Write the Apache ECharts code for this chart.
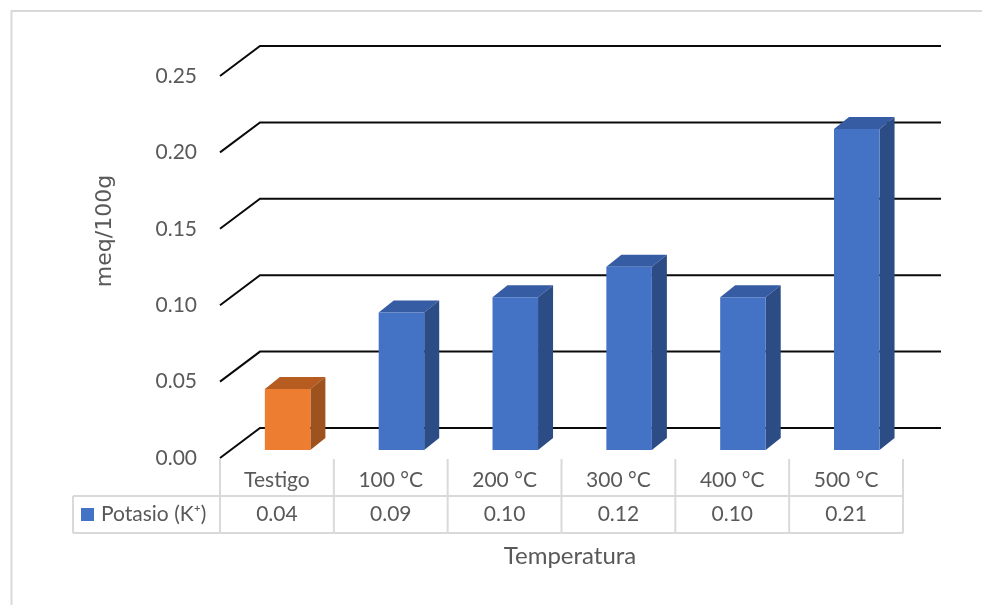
<!DOCTYPE html>
<html>
<head>
<meta charset="utf-8">
<script src="https://cdn.jsdelivr.net/npm/echarts@6/dist/echarts.min.js"></script>
<style>
  html, body { margin: 0; padding: 0; background: #ffffff; }
  #chart { width: 982px; height: 605px; }
</style>
</head>
<body>
<div id="chart"></div>
<script>
// Potassium content by treatment temperature
const categories = ['Testigo', '100 °C', '200 °C', '300 °C', '400 °C', '500 °C'];
const potasio = [0.04, 0.09, 0.10, 0.12, 0.10, 0.21];
const yTicks = [0.00, 0.05, 0.10, 0.15, 0.20, 0.25];
const seriesName = 'Potasio (K\u207A)';
const yTitle = 'meq/100g';
const xTitle = 'Temperatura';

const FONT = 'Lato, "Open Sans", sans-serif';
const TEXT = '#595959';
const BORDER = '#D9D9D9';
const BLUE = { front: '#4472C4', top: '#365CA3', side: '#2B4C84' };
const ORANGE = { front: '#ED7D31', top: '#B75C21', side: '#9E521D' };

// perspective: floor depth vector, bar placement inside the floor
const FLOOR_DX = 40, FLOOR_DY = -30;
const BAR_OFF_X = 10.7, BAR_OFF_Y = -8;
const BAR_DX = 15, BAR_DY = -12;
const BAR_RATIO = 0.4;

const chart = echarts.init(document.getElementById('chart'), null, { renderer: 'canvas' });

function renderGridLine(params, api) {
  const v = api.value(1);
  const bw = api.size([1, 0])[0];
  const p0 = api.coord([0, v]);
  const pn = api.coord([categories.length - 1, v]);
  const left = p0[0] - bw / 2;
  const right = pn[0] + bw / 2;
  const y = p0[1];
  return {
    type: 'polyline',
    shape: { points: [[left, y], [left + FLOOR_DX, y + FLOOR_DY], [right + 38, y + FLOOR_DY]] },
    style: { stroke: '#0a0a0a', lineWidth: 2, fill: null }
  };
}

function renderBar(params, api) {
  const i = api.value(0);
  const v = api.value(1);
  const base = api.coord([i, 0]);
  const top = api.coord([i, v]);
  const bw = api.size([1, 0])[0];
  const w = bw * BAR_RATIO;
  const xl = base[0] + BAR_OFF_X - w / 2;
  const xr = xl + w;
  const yb = base[1] + BAR_OFF_Y;
  const yt = top[1] + BAR_OFF_Y;
  const pal = i === 0 ? ORANGE : BLUE; // control sample highlighted
  return {
    type: 'group',
    children: [
      { type: 'polygon', shape: { points: [[xl, yt], [xr, yt], [xr + BAR_DX, yt + BAR_DY], [xl + BAR_DX, yt + BAR_DY]] }, style: { fill: pal.top } },
      { type: 'polygon', shape: { points: [[xr, yt], [xr + BAR_DX, yt + BAR_DY], [xr + BAR_DX, yb + BAR_DY], [xr, yb]] }, style: { fill: pal.side } },
      { type: 'rect', shape: { x: xl, y: yt, width: w, height: yb - yt }, style: { fill: pal.front } }
    ]
  };
}

function line(x1, y1, x2, y2) {
  return { type: 'line', shape: { x1, y1, x2, y2 }, style: { stroke: BORDER, lineWidth: 2 } };
}

function renderTable(params, api) {
  const i = api.value(0);
  const v = api.value(1);
  const c = api.coord([i, 0]);
  const bw = api.size([1, 0])[0];
  const x0 = c[0] - bw / 2, x1 = c[0] + bw / 2;
  const yTop = c[1] + 1, yMid = yTop + 37, yBot = yMid + 37;
  const kids = [
    line(x0, yTop, x0, yBot),
    line(x0, yMid, x1, yMid),
    line(x0, yBot, x1, yBot),
    { type: 'text', x: c[0], y: (yTop + yMid) / 2 + 3,
      style: { text: categories[i], fill: TEXT, fontFamily: FONT, fontSize: 21, align: 'center', verticalAlign: 'middle' } },
    { type: 'text', x: c[0], y: (yMid + yBot) / 2,
      style: { text: v.toFixed(2), fill: TEXT, fontFamily: FONT, fontSize: 21, align: 'center', verticalAlign: 'middle' } }
  ];
  if (i === categories.length - 1) kids.push(line(x1, yTop, x1, yBot));
  if (i === 0) {
    const lx = x0 - 147;
    kids.push(line(lx, yMid, x0, yMid));
    kids.push(line(lx, yBot, x0, yBot));
    kids.push(line(lx, yMid, lx, yBot));
    kids.push({ type: 'rect', shape: { x: lx + 8, y: (yMid + yBot) / 2 - 6.5, width: 13, height: 13 }, style: { fill: BLUE.front } });
    kids.push({ type: 'text', x: lx + 28, y: (yMid + yBot) / 2,
      style: { text: seriesName, fill: TEXT, fontFamily: FONT, fontSize: 21, align: 'left', verticalAlign: 'middle' } });
  }
  return { type: 'group', children: kids };
}

const option = {
  animation: false,
  backgroundColor: '#ffffff',
  grid: { left: 220, right: 79, top: 76, bottom: 147, containLabel: false },
  xAxis: {
    type: 'category',
    data: categories,
    boundaryGap: true,
    axisLine: { show: false },
    axisTick: { show: false },
    axisLabel: { show: false },
    splitLine: { show: false }
  },
  yAxis: {
    type: 'value',
    min: 0,
    max: 0.25,
    interval: 0.05,
    axisLine: { show: false },
    axisTick: { show: false },
    splitLine: { show: false },
    axisLabel: {
      margin: 23,
      color: TEXT,
      fontFamily: FONT,
      fontSize: 21,
      formatter: v => v.toFixed(2)
    }
  },
  graphic: [
    { type: 'rect', shape: { x: 11.5, y: 11, width: 1200, height: 800 }, style: { fill: null, stroke: BORDER, lineWidth: 2 }, z: -1 },
    { type: 'text', x: 105, y: 231, rotation: Math.PI / 2,
      style: { text: yTitle, fill: TEXT, fontFamily: '"DejaVu Sans", Verdana, sans-serif', fontSize: 22, align: 'center', verticalAlign: 'middle' } },
    { type: 'text', x: 570, y: 556,
      style: { text: xTitle, fill: TEXT, fontFamily: FONT, fontSize: 24, align: 'center', verticalAlign: 'middle' } }
  ],
  series: [
    {
      type: 'custom',
      name: 'grid',
      renderItem: renderGridLine,
      data: yTicks.map(t => [0, t]),
      silent: true,
      clip: false,
      z: 1
    },
    {
      type: 'custom',
      name: seriesName,
      renderItem: renderBar,
      data: potasio.map((v, i) => [i, v]),
      silent: true,
      clip: false,
      z: 2
    },
    {
      type: 'custom',
      name: 'table',
      renderItem: renderTable,
      data: potasio.map((v, i) => [i, v]),
      silent: true,
      clip: false,
      z: 3
    }
  ]
};

chart.setOption(option);
</script>
</body>
</html>
